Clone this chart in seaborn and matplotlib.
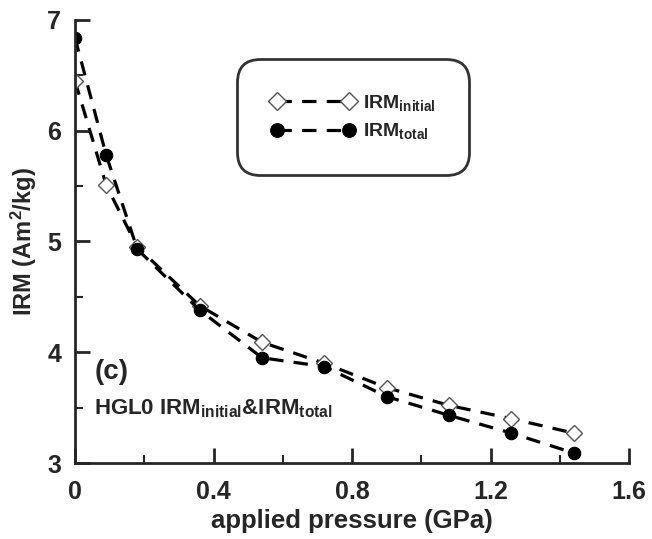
import numpy as np
import pandas as pd
import seaborn as sns
import matplotlib.pyplot as plt
from matplotlib.ticker import MultipleLocator

pressure = [0.0, 0.09, 0.18, 0.36, 0.54, 0.72, 0.90, 1.08, 1.26, 1.44]
irm_initial = [6.45, 5.51, 4.95, 4.42, 4.09, 3.90, 3.68, 3.52, 3.40, 3.27]
irm_total = [6.84, 5.78, 4.93, 4.38, 3.95, 3.87, 3.60, 3.43, 3.27, 3.09]

sns.set_style("ticks")
plt.rcParams['font.family'] = ['Liberation Sans', 'DejaVu Sans']
plt.rcParams['font.weight'] = 'bold'
plt.rcParams['mathtext.fontset'] = 'custom'
plt.rcParams['mathtext.rm'] = 'Liberation Sans:bold'
plt.rcParams['mathtext.bf'] = 'Liberation Sans:bold'
plt.rcParams['mathtext.default'] = 'rm'

df = pd.DataFrame({'p': pressure, 'ini': irm_initial, 'tot': irm_total})

fig = plt.figure(figsize=(6.52, 5.39), dpi=100)
ax = fig.add_axes([0.115, 0.141, 0.85, 0.822])

sns.lineplot(data=df, x='p', y='ini', ax=ax, color='black', lw=2.3,
             marker='D', markersize=8, markerfacecolor='white', markeredgecolor='#555555',
             markeredgewidth=1, label=r'IRM$_{\mathrm{initial}}$')
sns.lineplot(data=df, x='p', y='tot', ax=ax, color='black', lw=2.3,
             marker='o', markersize=9, markerfacecolor='black', markeredgecolor='black',
             label=r'IRM$_{\mathrm{total}}$')
# longer dashes like the original
for line in ax.lines:
    line.set_dashes((4.5, 3.2))

ax.set_xlim(0, 1.6)
ax.set_ylim(3, 7)
ax.xaxis.set_major_locator(MultipleLocator(0.4))
ax.xaxis.set_minor_locator(MultipleLocator(0.2))
ax.yaxis.set_major_locator(MultipleLocator(1))
ax.yaxis.set_minor_locator(MultipleLocator(0.5))
ax.set_xticks([0, 0.4, 0.8, 1.2, 1.6])
ax.set_xticklabels(['0', '0.4', '0.8', '1.2', '1.6'])
ax.tick_params(which='major', direction='in', length=11, width=2, labelsize=18)
ax.tick_params(axis='x', which='major', pad=12)
ax.tick_params(axis='y', which='major', pad=10)
ax.tick_params(which='minor', direction='in', length=6, width=1.5)
for lab in ax.get_xticklabels() + ax.get_yticklabels():
    lab.set_fontweight('bold')

sns.despine(ax=ax)
ax.spines['left'].set_linewidth(2)
ax.spines['bottom'].set_linewidth(2)

ax.set_xlabel('applied pressure (GPa)', fontsize=18.5, fontweight='bold', labelpad=4)
ax.set_ylabel(r'IRM (Am$^{2}$/kg)', fontsize=17, fontweight='bold', labelpad=6)

ax.text(0.035, 0.19, '(c)', transform=ax.transAxes, fontsize=20, fontweight='bold')
ax.text(0.035, 0.11, r'HGL0 IRM$_{\mathrm{initial}}$&IRM$_{\mathrm{total}}$',
        transform=ax.transAxes, fontsize=16, fontweight='bold')

leg = ax.legend(loc='center', bbox_to_anchor=(0.502, 0.781), fontsize=14, numpoints=2,
                handlelength=4.3, borderpad=1.75, labelspacing=0.45, handletextpad=0.4,
                fancybox=True, frameon=True, borderaxespad=0, markerscale=1.1)
frame = leg.get_frame()
frame.set_edgecolor('black')
frame.set_linewidth(2)
frame.set_boxstyle('round', pad=0, rounding_size=1.2)

fig.savefig('out.png', dpi=100)
